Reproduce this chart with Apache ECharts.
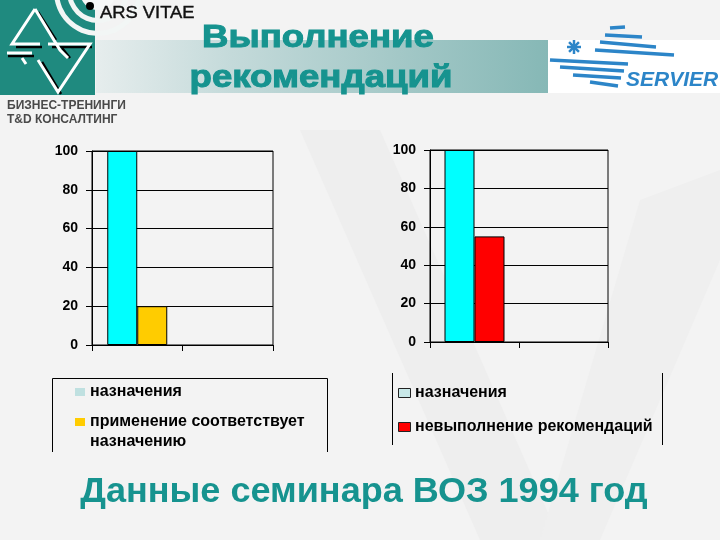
<!DOCTYPE html>
<html>
<head>
<meta charset="utf-8">
<script src="https://cdn.jsdelivr.net/npm/echarts@6/dist/echarts.min.js"></script>
<style>
html,body{margin:0;padding:0;background:#f3f3f3;}
#chart{width:720px;height:540px;}
</style>
</head>
<body>
<div id="chart"></div>
<script>
// ---- data ----
const categories = ['', ''];
const yTicks = [0, 20, 40, 60, 80, 100];
const leftNames = ['назначения', 'применение соответствует\nназначению'];
const leftPrescribed = [100, null];
const leftCompliant = [20, null];
const rightNames = ['назначения', 'невыполнение рекомендаций'];
const rightPrescribed = [100, null];
const rightNonCompliance = [55, null];
const titleLines = ['Выполнение', 'рекомендаций'];
const captionText = 'Данные семинара ВОЗ 1994 год';
const logoLeftText = ['ARS VITAE', 'БИЗНЕС-ТРЕНИНГИ', 'T&D КОНСАЛТИНГ'];
const logoRightText = 'SERVIER';

const FONT = '"Liberation Sans", Arial, sans-serif';
const TEAL = '#16938f';
const chart = echarts.init(document.getElementById('chart'));

function xAx(i) {
  return {
    gridIndex: i, type: 'category', data: categories,
    axisLine: {lineStyle: {color: '#000', width: 1}},
    axisTick: {show: true, length: 6, lineStyle: {color: '#000'}},
    axisLabel: {show: false}, splitLine: {show: false}
  };
}
function yAx(i) {
  return {
    gridIndex: i, type: 'value', min: yTicks[0], max: yTicks[yTicks.length - 1],
    interval: yTicks[1] - yTicks[0],
    axisLine: {show: true, lineStyle: {color: '#000', width: 1}},
    axisTick: {show: true, length: 6, lineStyle: {color: '#000'}},
    splitLine: {show: true, lineStyle: {color: '#000', width: 1}},
    axisLabel: {color: '#000', fontWeight: 'bold', fontSize: 14, fontFamily: FONT, margin: 14}
  };
}
function barSeries(name, data, color, idx) {
  return {
    type: 'bar', name: name, data: data, xAxisIndex: idx, yAxisIndex: idx,
    barWidth: 30, barGap: '0%',
    itemStyle: {color: color, borderColor: '#000', borderWidth: 1},
    emphasis: {disabled: true}
  };
}

const blue = '#2c85c8';
const graphics = [];
// faint watermark shapes in background
graphics.push({type: 'polygon', shape: {points: [[300, 130], [380, 130], [560, 540], [480, 540]]}, z: -20, style: {fill: '#eeeeee'}});
graphics.push({type: 'polygon', shape: {points: [[640, 200], [720, 170], [720, 260], [600, 540], [540, 540]]}, z: -20, style: {fill: '#efefef'}});
// background band behind title
graphics.push({type: 'rect', shape: {x: 96, y: 40, width: 452, height: 53}, z: -10,
  style: {fill: new echarts.graphic.LinearGradient(0, 0, 1, 0, [
    {offset: 0, color: '#e6eded'}, {offset: 0.3, color: '#c4dada'}, {offset: 1, color: '#86b8b6'}])}});
// left logo
graphics.push({type: 'rect', shape: {x: 0, y: 0, width: 95, height: 95}, z: -5, style: {fill: '#1f8a7f'}});
graphics.push({type: 'ring', shape: {cx: 98, cy: -8, r: 44, r0: 39}, z: -4, style: {fill: '#f2f6f5'}});
graphics.push({type: 'ring', shape: {cx: 98, cy: -8, r: 31, r0: 26}, z: -4, style: {fill: '#f2f6f5'}});
graphics.push({type: 'circle', shape: {cx: 98, cy: -8, r: 18}, z: -4, style: {fill: '#f6f8f8'}});
graphics.push({type: 'circle', shape: {cx: 90, cy: 6, r: 4}, z: -3, style: {fill: '#000'}});
const blackLines = [
  [[38, 12], [56, 40]], [[16, 47], [42, 47]], [[52, 47], [92, 47]], [[61, 94], [42, 62]], [[8, 56], [34, 56]], [[62, 48], [70, 58]]
];
blackLines.forEach(p => graphics.push({type: 'polyline', shape: {points: p}, z: -3, style: {stroke: '#000', lineWidth: 2.5, fill: null}}));
const whiteLines = [
  [[35, 9], [12, 44], [40, 44]], [[35, 9], [60, 50], [68, 58]], [[48, 44], [90, 44], [58, 92], [38, 60]], [[7, 53], [32, 53]], [[22, 58], [26, 64]]
];
whiteLines.forEach(p => graphics.push({type: 'polyline', shape: {points: p}, z: -2, style: {stroke: '#fff', lineWidth: 3, fill: null}}));
graphics.push({type: 'text', x: 100, y: 13, scaleX: 1.08, z: 5, style: {text: logoLeftText[0], font: '17px ' + FONT, fill: '#111', stroke: '#111', lineWidth: 0.4, textVerticalAlign: 'middle'}});
graphics.push({type: 'text', x: 7, y: 106, z: 5, style: {text: logoLeftText[1], font: 'bold 12px ' + FONT, fill: '#4a4a4a', textVerticalAlign: 'middle'}});
graphics.push({type: 'text', x: 7, y: 120, z: 5, style: {text: logoLeftText[2], font: 'bold 12px ' + FONT, fill: '#4a4a4a', textVerticalAlign: 'middle'}});
// right logo
graphics.push({type: 'rect', shape: {x: 548, y: 40, width: 172, height: 53}, z: -5, style: {fill: '#ffffff'}});
const stripes = [
  [[610, 28], [625, 27]], [[605, 35], [642, 37]], [[600, 42], [656, 47]], [[595, 50], [674, 55]],
  [[550, 60], [628, 64]], [[560, 67], [624, 71]], [[573, 75], [621, 78]], [[590, 82], [618, 86]]
];
stripes.forEach(p => graphics.push({type: 'polyline', shape: {points: p}, z: 3, style: {stroke: blue, lineWidth: 3.5, fill: null}}));
[[0], [45], [90], [135]].forEach(a => {
  const r = 7, ang = a[0] * Math.PI / 180;
  graphics.push({type: 'line', shape: {x1: 574 - r * Math.cos(ang), y1: 47 - r * Math.sin(ang), x2: 574 + r * Math.cos(ang), y2: 47 + r * Math.sin(ang)}, z: 3, style: {stroke: blue, lineWidth: 2.5}});
});
graphics.push({type: 'text', x: 626, y: 80, z: 5, style: {text: logoRightText, font: 'italic bold 21px ' + FONT, fill: blue, textVerticalAlign: 'middle'}});
// title
graphics.push({type: 'text', x: 318, y: 38, scaleX: 1.18, z: 5, style: {text: titleLines[0], font: 'bold 31px ' + FONT, fill: TEAL, stroke: TEAL, lineWidth: 1, textAlign: 'center', textVerticalAlign: 'middle'}});
graphics.push({type: 'text', x: 321, y: 78, scaleX: 1.18, z: 5, style: {text: titleLines[1], font: 'bold 31px ' + FONT, fill: TEAL, stroke: TEAL, lineWidth: 1, textAlign: 'center', textVerticalAlign: 'middle'}});
// caption
graphics.push({type: 'text', x: 364, y: 492, scaleX: 1.03, z: 5, style: {text: captionText, font: 'bold 35px ' + FONT, fill: TEAL, textAlign: 'center', textVerticalAlign: 'middle'}});
// legend boxes
const lineStyle = {stroke: '#000', lineWidth: 1};
graphics.push({type: 'polyline', shape: {points: [[52.5, 452], [52.5, 378.5], [327.5, 378.5], [327.5, 452]]}, style: Object.assign({fill: null}, lineStyle)});
graphics.push({type: 'line', shape: {x1: 392.5, y1: 373, x2: 392.5, y2: 445}, style: lineStyle});
graphics.push({type: 'line', shape: {x1: 662.5, y1: 373, x2: 662.5, y2: 445}, style: lineStyle});
// legend items
const LFONT = 'bold 16px ' + FONT;
graphics.push({type: 'rect', shape: {x: 75, y: 388, width: 10, height: 8}, style: {fill: '#bfe0e0'}});
graphics.push({type: 'rect', shape: {x: 75, y: 418, width: 10, height: 8}, style: {fill: '#ffcc00'}});
graphics.push({type: 'text', x: 90, y: 392, style: {text: leftNames[0], font: LFONT, fill: '#000', textVerticalAlign: 'middle'}});
graphics.push({type: 'text', x: 90, y: 412, style: {text: leftNames[1], font: LFONT, lineHeight: 20, fill: '#000', textVerticalAlign: 'top'}});
graphics.push({type: 'rect', shape: {x: 398.5, y: 388.5, width: 12, height: 9}, style: {fill: '#c8e8e8', stroke: '#222', lineWidth: 1}});
graphics.push({type: 'rect', shape: {x: 398.5, y: 422.5, width: 12, height: 9}, style: {fill: '#ff0000', stroke: '#222', lineWidth: 1}});
graphics.push({type: 'text', x: 415, y: 393, style: {text: rightNames[0], font: LFONT, fill: '#000', textVerticalAlign: 'middle'}});
graphics.push({type: 'text', x: 415, y: 427, style: {text: rightNames[1], font: LFONT, fill: '#000', textVerticalAlign: 'middle'}});

chart.setOption({
  animation: false,
  backgroundColor: '#f3f3f3',
  grid: [
    {left: 92, top: 151, width: 181, height: 194, show: true, borderColor: '#000', borderWidth: 1, backgroundColor: 'transparent'},
    {left: 430, top: 150, width: 178, height: 192, show: true, borderColor: '#000', borderWidth: 1, backgroundColor: 'transparent'}
  ],
  xAxis: [xAx(0), xAx(1)],
  yAxis: [yAx(0), yAx(1)],
  series: [
    barSeries(leftNames[0], leftPrescribed, '#00ffff', 0),
    barSeries(leftNames[1], leftCompliant, '#ffcc00', 0),
    barSeries(rightNames[0], rightPrescribed, '#00ffff', 1),
    barSeries(rightNames[1], rightNonCompliance, '#ff0000', 1)
  ],
  graphic: graphics
});
</script>
</body>
</html>
